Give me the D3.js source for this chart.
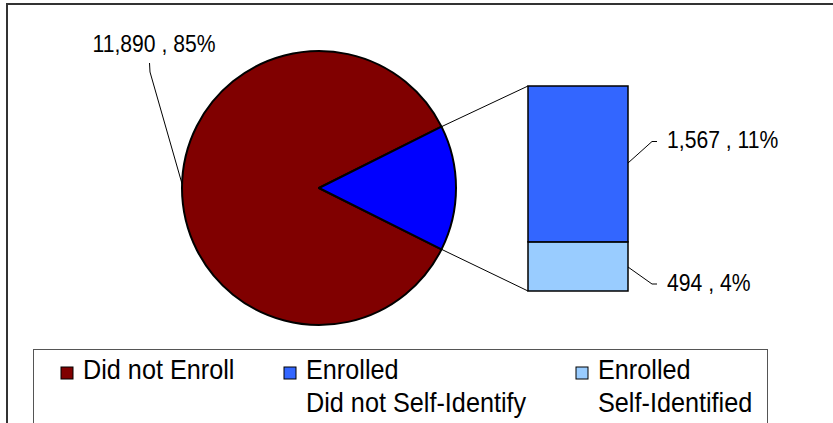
<!DOCTYPE html>
<html lang="en">
<head>
    <meta charset="UTF-8">
    <title>Enrollment pie</title>
    <script src="https://d3js.org/d3.v7.min.js"></script>
    <style>
        body { margin: 0; background: #fff; }
        svg { display: block; font-family: "Liberation Sans", Arial, sans-serif; }
    </style>
</head>
<body>
<script>

  // DATA
  const pieNames  = ["Did not Enroll", "Enrolled"];
  const pieValues = [11890, 2061];
  const barNames  = ["Enrolled Self-Identified", "Enrolled Did not Self-Identify"]; // bottom -> top
  const barValues = [494, 1567];
  const legendLines = [["Did not Enroll"], ["Enrolled", "Did not Self-Identify"], ["Enrolled", "Self-Identified"]];
  const legendColors = ["#800000", "#3366FF", "#99CCFF"];

  const total = d3.sum(pieValues);
  const fmt = d3.format(",");
  const pct = v => Math.round(v / total * 100) + "%";

  const W = 833, H = 423;
  let svg = d3.select("body").append("svg").attr("width", W).attr("height", H);

  // OUTER FRAME (runs off the right and bottom of the picture)
  svg.append("rect").attr("x", 7).attr("y", 4).attr("width", 900).attr("height", 500)
     .attr("fill", "none").attr("stroke", "#333").attr("stroke-width", 2);

  // PIE
  const cx = 319, cy = 188, r = 137;
  const small = 2 * Math.PI * pieValues[1] / total;
  const start = Math.PI / 2 + small / 2;
  const pie = d3.pie().sort(null).startAngle(start).endAngle(start + 2 * Math.PI);
  const arc = d3.arc().innerRadius(0).outerRadius(r);
  const arcs = pie(pieValues);
  const pieColors = ["#800000", "#0000FF"];

  const gp = svg.append("g").attr("transform", `translate(${cx},${cy})`);
  gp.selectAll("path").data(arcs).enter().append("path")
    .attr("d", arc)
    .attr("fill", (d, i) => pieColors[i])
    .attr("stroke", "#000").attr("stroke-width", 2).attr("stroke-linejoin", "round");

  const onPie = a => [cx + r * Math.sin(a), cy - r * Math.cos(a)];

  // STACKED BAR for the small slice
  const bx = 528, bw = 100;
  const y = d3.scaleLinear().domain([0, d3.sum(barValues)]).range([291, 86]);
  const stack = d3.cumsum(barValues);
  const barColors = ["#99CCFF", "#3366FF"];
  svg.selectAll("rect.bar").data(barValues).enter().append("rect")
    .attr("class", "bar")
    .attr("x", bx).attr("width", bw)
    .attr("y", (d, i) => y(stack[i]))
    .attr("height", (d, i) => y(stack[i] - d) - y(stack[i]))
    .attr("fill", (d, i) => barColors[i])
    .attr("stroke", "#000").attr("stroke-width", 1.5);

  // connector lines from the blue slice to the bar
  // (the slice starts at its upper edge and ends at its lower edge)
  const pTop = onPie(arcs[1].startAngle), pBot = onPie(arcs[1].endAngle);
  const lines = [[pTop, [bx, y(d3.sum(barValues))]], [pBot, [bx, y(0)]]];
  svg.selectAll("line.conn").data(lines).enter().append("line")
    .attr("class", "conn")
    .attr("x1", d => d[0][0]).attr("y1", d => d[0][1])
    .attr("x2", d => d[1][0]).attr("y2", d => d[1][1])
    .attr("stroke", "#000").attr("stroke-width", 1);

  // DATA LABELS (text a little condensed, like the original)
  const leader = d3.line();
  const label = (x, yy, txt, anchor) => svg.append("text")
    .attr("transform", `translate(${x},${yy}) scale(0.92,1)`)
    .attr("font-size", 23).attr("fill", "#000")
    .attr("text-anchor", anchor || "start")
    .text(txt);

  // big slice label
  const pLeft = onPie(arcs[0].startAngle + (2 * Math.PI - small) * 0.5 + 0.03);
  svg.append("path").attr("d", leader([[149.5, 63], [150, 72], pLeft]))
     .attr("fill", "none").attr("stroke", "#000").attr("stroke-width", 1);
  label(154, 51.5, fmt(pieValues[0]) + " , " + pct(pieValues[0]), "middle");

  // bar labels
  const barLbl = [
    { v: barValues[1], from: [bx + bw, 163], knee: [652, 141.5], ty: 148 },
    { v: barValues[0], from: [bx + bw, 267], knee: [652, 284],   ty: 290.5 }
  ];
  barLbl.forEach(d => {
    svg.append("path").attr("d", leader([d.from, d.knee, [d.knee[0] + 5, d.knee[1]]]))
       .attr("fill", "none").attr("stroke", "#000").attr("stroke-width", 1);
    label(667, d.ty, fmt(d.v) + " , " + pct(d.v));
  });

  // LEGEND
  svg.append("rect").attr("x", 33.5).attr("y", 349.5).attr("width", 734).attr("height", 120)
     .attr("fill", "#fff").attr("stroke", "#555").attr("stroke-width", 1);

  const legX = [61, 284, 576];
  const lg = svg.selectAll("g.leg").data(legendLines).enter().append("g")
    .attr("class", "leg")
    .attr("transform", (d, i) => `translate(${legX[i]},367)`);
  lg.append("rect").attr("width", 12).attr("height", 12)
    .attr("fill", (d, i) => legendColors[i]).attr("stroke", "#000").attr("stroke-width", 1);
  lg.append("text").attr("font-size", 27).attr("fill", "#000")
    .attr("transform", "translate(22,0) scale(0.935,1)")
    .selectAll("tspan").data(d => d).enter().append("tspan")
    .attr("x", 0).attr("y", (d, i) => 12 + i * 33)
    .text(d => d);

</script>
</body>
</html>
